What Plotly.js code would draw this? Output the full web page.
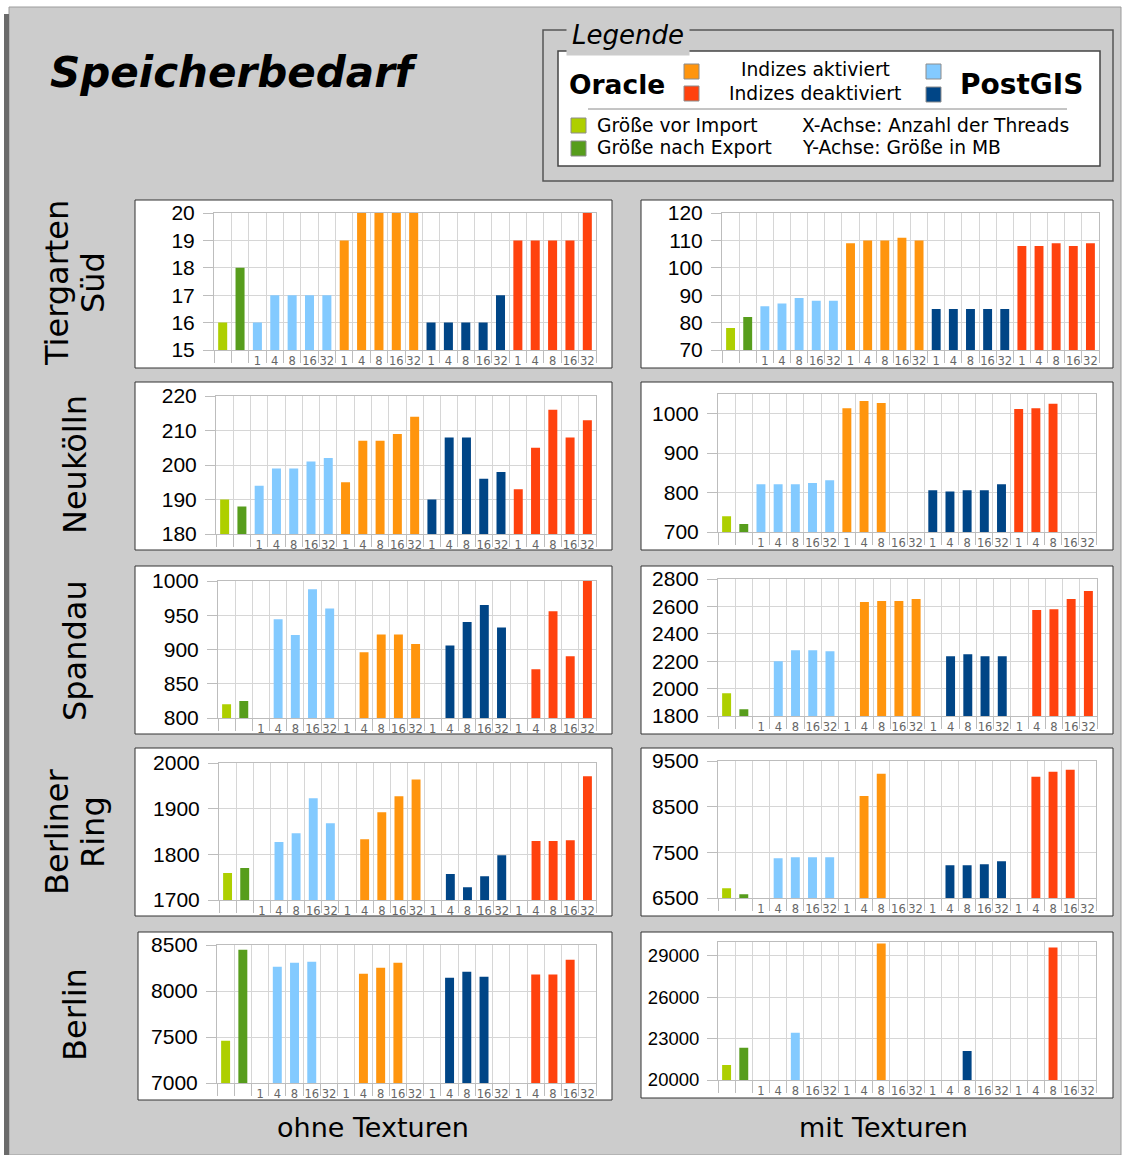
<!DOCTYPE html>
<html>
<head>
<meta charset="utf-8">
<script src="https://cdn.plot.ly/plotly-3.0.1.min.js"></script>
<style>
  html, body { margin: 0; padding: 0; background: #ffffff; }
  #chart { width: 1122px; height: 1155px; }
</style>
</head>
<body>
<div id="chart"></div>
<script>
// Category order along every x axis:
// Größe vor Import, Größe nach Export, then threads 1..32 for
// PostGIS (Indizes aktiviert), Oracle (aktiviert), PostGIS (deaktiviert), Oracle (deaktiviert)
const threads = ['1', '4', '8', '16', '32'];
const tickLabels = ['', ''].concat(threads, threads, threads, threads);

const rowNames = [['Tiergarten', 'Süd'], ['Neukölln'], ['Spandau'], ['Berliner', 'Ring'], ['Berlin']];
const columnNames = ['ohne Texturen', 'mit Texturen'];

// Speicherbedarf in MB (null = kein Messwert)
const tiergartenSuedOhne = [16, 18, 16, 17, 17, 17, 17, 19, 20, 20, 20, 20, 16, 16, 16, 16, 17, 19, 19, 19, 19, 20];
const tiergartenSuedMit  = [78, 82, 86, 87, 89, 88, 88, 109, 110, 110, 111, 110, 85, 85, 85, 85, 85, 108, 108, 109, 108, 109];
const neukoellnOhne      = [190, 188, 194, 199, 199, 201, 202, 195, 207, 207, 209, 214, 190, 208, 208, 196, 198, 193, 205, 216, 208, 213];
const neukoellnMit       = [740, 720, 821, 821, 821, 824, 831, 1014, 1032, 1027, null, null, 806, 803, 806, 806, 821, 1012, 1014, 1025, null, null];
const spandauOhne        = [820, 825, null, 944, 921, 988, 960, null, 896, 922, 922, 908, null, 906, 940, 965, 932, null, 871, 956, 890, 1000];
const spandauMit         = [1966, 1849, null, 2200, 2280, 2280, 2273, null, 2632, 2639, 2639, 2654, null, 2237, 2251, 2237, 2237, null, 2573, 2580, 2654, 2712];
const berlinerRingOhne   = [1759, 1770, null, 1827, 1846, 1923, 1868, null, 1833, 1892, 1927, 1964, null, 1757, 1728, 1752, 1798, null, 1829, 1829, 1831, 1971];
const berlinerRingMit    = [6712, 6580, null, 7371, 7393, 7393, 7393, null, 8736, 9219, null, null, null, 7217, 7217, 7239, 7305, null, 9153, 9263, 9307, null];
const berlinOhne         = [7460, 8449, null, 8264, 8308, 8319, null, null, 8188, 8254, 8308, null, null, 8145, 8210, 8156, null, null, 8178, 8178, 8341, null];
const berlinMit          = [21091, 22328, null, null, 23420, null, null, null, null, 29896, null, null, null, null, 22110, null, null, null, null, 29605, null, null];

// Series colours
const cVor = '#aecf00', cNach = '#579d1c';
const cPgAkt = '#83caff', cOrAkt = '#ff950e', cPgDeakt = '#004586', cOrDeakt = '#ff420e';
const rep = (c) => [c, c, c, c, c];
const barColors = [cVor, cNach].concat(rep(cPgAkt), rep(cOrAkt), rep(cPgDeakt), rep(cOrDeakt));

// Page geometry (pixels)
const W = 1122, H = 1155;
const px = (x) => x / W;
const py = (y) => 1 - y / H;

// Each panel: values, plot area [x0, y0, x1, y1], surrounding white box, y scale
const panels = [
  { values: tiergartenSuedOhne, plot: [214, 213, 596, 350], box: [135, 200, 612, 368], range: [15, 20], dtick: 1, tick0: 15 },
  { values: tiergartenSuedMit,  plot: [722, 213, 1099, 350], box: [641, 200, 1113, 368], range: [70, 120], dtick: 10, tick0: 70 },
  { values: neukoellnOhne,      plot: [216, 396, 596, 534], box: [135, 382, 612, 550], range: [180, 220], dtick: 10, tick0: 180 },
  { values: neukoellnMit,       plot: [718, 394, 1096, 532], box: [641, 382, 1113, 550], range: [700, 1050], dtick: 100, tick0: 700 },
  { values: spandauOhne,        plot: [218, 581, 596, 718], box: [135, 566, 612, 734], range: [800, 1000], dtick: 50, tick0: 800 },
  { values: spandauMit,         plot: [718, 579, 1097, 716], box: [641, 566, 1113, 734], range: [1800, 2800], dtick: 200, tick0: 1800 },
  { values: berlinerRingOhne,   plot: [219, 763, 596, 900], box: [135, 748, 612, 916], range: [1700, 2000], dtick: 100, tick0: 1700 },
  { values: berlinerRingMit,    plot: [718, 761, 1096, 898], box: [641, 748, 1113, 916], range: [6500, 9500], dtick: 1000, tick0: 6500 },
  { values: berlinOhne,         plot: [217, 945, 596, 1083], box: [138, 932, 612, 1100], range: [7000, 8500], dtick: 500, tick0: 7000 },
  { values: berlinMit,          plot: [718, 942, 1096, 1080], box: [641, 932, 1113, 1098], range: [20000, 30000], dtick: 3000, tick0: 20000, fontSize: 18.5 }
];

const idx = tickLabels.map((_, i) => i);
const bounds = [];
for (let i = 0; i <= tickLabels.length; i++) bounds.push(i - 0.5);

const gridColor = '#d6d6d6';
const axisColor = '#bdbdbd';

const traces = [];
const layout = {
  width: W, height: H,
  margin: { l: 0, r: 0, t: 0, b: 0 },
  paper_bgcolor: '#ffffff',
  plot_bgcolor: '#ffffff',
  showlegend: false,
  bargap: 0.48,
  font: { family: 'Liberation Sans, Arial, sans-serif', color: '#000' },
  shapes: [],
  annotations: []
};

// Grey sheet with a dark left edge
layout.shapes.push({ type: 'rect', xref: 'paper', yref: 'paper', layer: 'below',
  x0: px(9), x1: px(1121), y0: py(1155), y1: py(7),
  fillcolor: '#cccccc', line: { color: '#9c9c9c', width: 1 } });
layout.shapes.push({ type: 'rect', xref: 'paper', yref: 'paper', layer: 'below',
  x0: px(4), x1: px(9), y0: py(1155), y1: py(14),
  fillcolor: '#6b6b6b', line: { width: 0 } });

panels.forEach((p, k) => {
  const n = k === 0 ? '' : String(k + 1);
  const [x0, y0, x1, y1] = p.plot;
  const [bx0, by0, bx1, by1] = p.box;

  layout.shapes.push({ type: 'rect', xref: 'paper', yref: 'paper', layer: 'below',
    x0: px(bx0), x1: px(bx1), y0: py(by1), y1: py(by0),
    fillcolor: '#ffffff', line: { color: '#333333', width: 1 } });

  traces.push({
    type: 'bar',
    x: idx,
    y: p.values,
    xaxis: 'x' + n,
    yaxis: 'y' + n,
    marker: { color: barColors, line: { width: 0 } },
    hoverinfo: 'y'
  });

  layout['xaxis' + n] = {
    domain: [px(x0), px(x1)],
    anchor: 'y' + n,
    range: [-0.5, tickLabels.length - 0.5],
    tickmode: 'array',
    tickvals: idx,
    ticktext: tickLabels,
    tickangle: 0,
    ticks: '',
    showgrid: false,
    zeroline: false,
    showline: true,
    linecolor: axisColor,
    linewidth: 1,
    mirror: true,
    tickfont: { family: 'DejaVu Sans, sans-serif', size: 11.5, color: '#666666' },
    minor: {
      tickmode: 'array',
      tickvals: bounds,
      ticks: 'outside',
      ticklen: 12,
      tickcolor: axisColor,
      tickwidth: 1,
      showgrid: true,
      gridcolor: gridColor,
      gridwidth: 1
    },
    fixedrange: true
  };

  layout['yaxis' + n] = {
    domain: [py(y1), py(y0)],
    anchor: 'x' + n,
    range: p.range,
    tick0: p.tick0,
    dtick: p.dtick,
    tickformat: 'd',
    ticks: 'outside',
    ticklen: 10,
    tickcolor: axisColor,
    ticklabelstandoff: 4,
    showgrid: true,
    gridcolor: gridColor,
    gridwidth: 1,
    zeroline: false,
    showline: true,
    linecolor: axisColor,
    linewidth: 1,
    mirror: true,
    tickfont: { family: 'Liberation Sans, Arial, sans-serif', size: p.fontSize || 21, color: '#000000' },
    fixedrange: true
  };
});

// Row captions (rotated), one annotation per text line
const rowCenters = [283, 465, 651, 832, 1015];
const rowFont = { family: 'DejaVu Sans, sans-serif', size: 32, color: '#000' };
rowNames.forEach((lines, i) => {
  const xs = lines.length === 2 ? [57, 93] : [75];
  lines.forEach((line, j) => {
    layout.annotations.push({ xref: 'paper', yref: 'paper', x: px(xs[j]), y: py(rowCenters[i]),
      xanchor: 'center', yanchor: 'middle', textangle: -90, showarrow: false,
      text: line, font: rowFont });
  });
});

// Column captions
const colCenters = [373, 883];
columnNames.forEach((name, i) => {
  layout.annotations.push({ xref: 'paper', yref: 'paper', x: px(colCenters[i]), y: py(1127),
    xanchor: 'center', yanchor: 'middle', showarrow: false,
    text: name, font: { family: 'DejaVu Sans, sans-serif', size: 27, color: '#000' } });
});

// Chart title
layout.annotations.push({ xref: 'paper', yref: 'paper', x: px(48), y: py(72),
  xanchor: 'left', yanchor: 'middle', showarrow: false,
  text: '<b><i>Speicherbedarf</i></b>', font: { family: 'DejaVu Sans, sans-serif', size: 42, color: '#000' } });

// Legend block
layout.shapes.push({ type: 'rect', xref: 'paper', yref: 'paper', layer: 'below',
  x0: px(543), x1: px(1113), y0: py(181), y1: py(30),
  fillcolor: 'rgba(0,0,0,0)', line: { color: '#555555', width: 1.5 } });
layout.shapes.push({ type: 'rect', xref: 'paper', yref: 'paper', layer: 'below',
  x0: px(558), x1: px(1100), y0: py(166), y1: py(51),
  fillcolor: '#ffffff', line: { color: '#444444', width: 1.5 } });
layout.shapes.push({ type: 'line', xref: 'paper', yref: 'paper', layer: 'below',
  x0: px(588), x1: px(1067), y0: py(109), y1: py(109),
  line: { color: '#8a8a8a', width: 1 } });

const swatches = [
  [684, 64, cOrAkt], [684, 86, cOrDeakt], [926, 64, cPgAkt], [926, 87, cPgDeakt],
  [571, 118, cVor], [571, 141, cNach]
];
swatches.forEach(([sx, sy, c]) => {
  layout.shapes.push({ type: 'rect', xref: 'paper', yref: 'paper', layer: 'above',
    x0: px(sx), x1: px(sx + 15), y0: py(sy + 15), y1: py(sy),
    fillcolor: c, line: { color: '#8c8c8c', width: 1 } });
});

const legFont = { family: 'DejaVu Sans, sans-serif', size: 18.7, color: '#000' };
const legendTexts = [
  { x: 815, y: 70, a: 'center', t: 'Indizes aktiviert' },
  { x: 815, y: 93, a: 'center', t: 'Indizes deaktiviert' },
  { x: 595, y: 125, a: 'left', t: 'Größe vor Import' },
  { x: 595, y: 148, a: 'left', t: 'Größe nach Export' },
  { x: 800, y: 125, a: 'left', t: 'X-Achse: Anzahl der Threads' },
  { x: 800, y: 148, a: 'left', t: 'Y-Achse: Größe in MB' }
];
legendTexts.forEach((l) => {
  layout.annotations.push({ xref: 'paper', yref: 'paper', x: px(l.x), y: py(l.y),
    xanchor: l.a, yanchor: 'middle', showarrow: false, text: l.t, font: legFont });
});
layout.annotations.push({ xref: 'paper', yref: 'paper', x: px(567), y: py(84),
  xanchor: 'left', yanchor: 'middle', showarrow: false, text: '<b>Oracle</b>',
  font: { family: 'DejaVu Sans, sans-serif', size: 26.5, color: '#000' } });
layout.annotations.push({ xref: 'paper', yref: 'paper', x: px(1085), y: py(84),
  xanchor: 'right', yanchor: 'middle', showarrow: false, text: '<b>PostGIS</b>',
  font: { family: 'DejaVu Sans, sans-serif', size: 28, color: '#000' } });
layout.annotations.push({ xref: 'paper', yref: 'paper', x: px(566), y: py(35),
  xanchor: 'left', yanchor: 'middle', showarrow: false, text: '<i>Legende</i>',
  bgcolor: '#cccccc', borderpad: 5,
  font: { family: 'DejaVu Sans, sans-serif', size: 26, color: '#000' } });

Plotly.newPlot('chart', traces, layout, { displayModeBar: false, staticPlot: true });
</script>
</body>
</html>
